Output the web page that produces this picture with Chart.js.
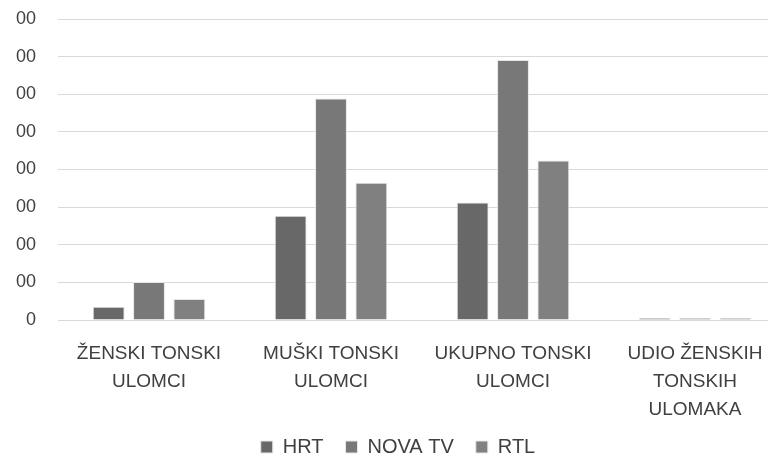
<!DOCTYPE html>
<html>
<head>
<meta charset="utf-8">
<script src="https://cdn.jsdelivr.net/npm/chart.js@4/dist/chart.umd.min.js"></script>
<style>
html,body{margin:0;padding:0;background:#fff;overflow:hidden;}
#wrap{width:768px;height:454px;position:relative;overflow:hidden;}
canvas{position:absolute;left:0;top:0;}
</style>
</head>
<body>
<div id="wrap"><canvas id="c" width="790" height="454"></canvas></div>
<script>
const categories = [
  ["ŽENSKI TONSKI", "ULOMCI"],
  ["MUŠKI TONSKI", "ULOMCI"],
  ["UKUPNO TONSKI", "ULOMCI"],
  ["UDIO ŽENSKIH", "TONSKIH", "ULOMAKA"]
];
const seriesNames = ["HRT", "NOVA TV", "RTL"];
const hrt = [35, 277, 312, 5];
const novaTv = [101, 589, 691, 5];
const rtl = [56, 365, 424, 5];
const yTickValues = [0, 100, 200, 300, 400, 500, 600, 700, 800];
const yTickLabels = ["0", "00", "00", "00", "00", "00", "00", "00", "00"];

const colors = ["#686868", "#787878", "#808080"];
const seriesData = [hrt, novaTv, rtl];
const FONT = "'Liberation Sans', Arial, sans-serif";

const unclipX = {
  id: 'unclipX',
  afterLayout(chart) { chart.scales.x.bottom = chart.height; }
};

new Chart(document.getElementById('c'), {
  type: 'bar',
  data: {
    labels: categories,
    datasets: seriesNames.map((n, i) => ({
      label: n,
      data: seriesData[i],
      backgroundColor: colors[i],
      borderColor: '#e6e6e6',
      borderWidth: 1,
      categoryPercentage: 0.665,
      barPercentage: 0.79
    }))
  },
  plugins: [unclipX],
  options: {
    responsive: false,
    animation: false,
    devicePixelRatio: 1,
    layout: { padding: { left: 10, right: 4, top: 0, bottom: -13 } },
    plugins: {
      tooltip: { enabled: false },
      legend: {
        position: 'bottom',
        labels: {
          boxWidth: 12,
          boxHeight: 12,
          padding: 22,
          color: '#404040',
          font: { family: FONT, size: 20 }
        }
      }
    },
    scales: {
      x: {
        afterFit: (axis) => { axis.height = 95; axis.paddingLeft = 0; axis.paddingRight = 0; },
        grid: { display: false, drawTicks: false },
        border: { display: true, color: '#d9d9d9', width: 1 },
        ticks: {
          color: '#404040',
          padding: 20,
          maxRotation: 0,
          autoSkip: false,
          font: { family: FONT, size: 19, lineHeight: 1.47 }
        }
      },
      y: {
        min: 0,
        max: 800,
        afterBuildTicks: (axis) => { axis.ticks = yTickValues.map(v => ({ value: v })); },
        afterFit: (axis) => { axis.width = 48; axis.paddingTop = 19; axis.paddingBottom = 0; },
        grid: { color: '#d9d9d9', drawTicks: false, lineWidth: 1 },
        border: { display: false },
        ticks: {
          color: '#404040',
          padding: 22,
          font: { family: FONT, size: 18 },
          callback: (v) => yTickLabels[yTickValues.indexOf(v)]
        }
      }
    }
  }
});
</script>
</body>
</html>
